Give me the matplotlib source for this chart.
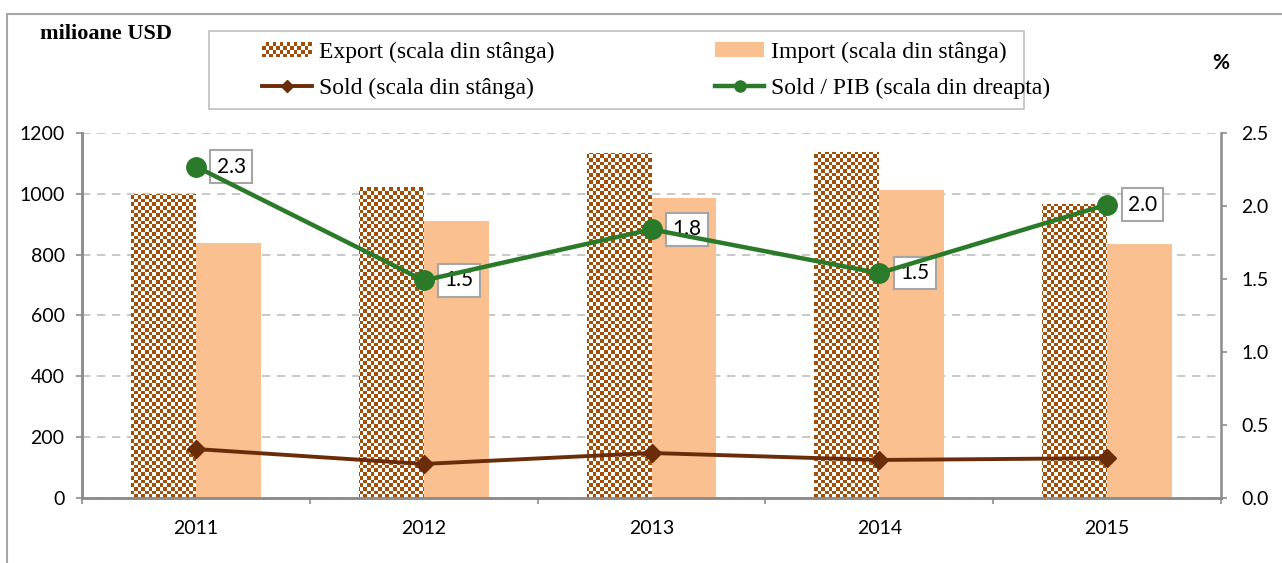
import numpy as np
import matplotlib
matplotlib.use("Agg")
import matplotlib.pyplot as plt
from matplotlib.patches import Rectangle
from matplotlib.legend_handler import HandlerBase
from matplotlib.lines import Line2D

years = ["2011", "2012", "2013", "2014", "2015"]
export_vals = [1000, 1023, 1135, 1138, 967]
import_vals = [839, 911, 987, 1013, 836]
sold_vals = [161, 112, 148, 125, 131]
sold_pib = [2.27, 1.49, 1.84, 1.54, 2.01]

BROWN = "#A04E08"
PEACH = "#FAC090"
SOLD_C = "#6B2C0A"
GREEN = "#2A7A2A"
GRAY = "#8C8C8C"

plt.rcParams["font.family"] = ["Lato", "DejaVu Sans"]

fig = plt.figure(figsize=(12.82, 5.63), dpi=100)
ax = fig.add_axes([82 / 1282, 1 - 498 / 563, (1221 - 82) / 1282, (498 - 133) / 563])
ax2 = ax.twinx()

x = np.arange(len(years))
w = 0.285
exp_bars = ax.bar(x - w / 2, export_vals, w, color="white", edgecolor="none", zorder=2)
imp_bars = ax.bar(x + w / 2, import_vals, w, color=PEACH, edgecolor="none", zorder=2)

# checkerboard fill for export bars
ny, nx = 99, 308
checker = (np.add.outer(np.arange(ny), np.arange(nx)) % 2).astype(float)
cmap = matplotlib.colors.ListedColormap([BROWN, "white"])
for b in exp_bars:
    im = ax.imshow(checker, extent=[0, 1, 0, 1], transform=ax.transAxes,
                   cmap=cmap, interpolation="nearest", aspect="auto", zorder=2.1)
    im.set_clip_path(b)

ax.plot(x, sold_vals, color=SOLD_C, lw=2.8, marker="D", ms=9, zorder=4)
ax2.plot(x, sold_pib, color=GREEN, lw=3.2, marker="o", ms=14, zorder=4)

for i, v in enumerate(sold_pib):
    ax2.annotate(f"{v:.1f}", (x[i], v), xytext=(15, 0), textcoords="offset points",
                 ha="left", va="center", fontsize=15,
                 bbox=dict(boxstyle="square,pad=0.3", fc="white", ec="#A6A6A6", lw=1.5))

ax.set_xlim(-0.5, len(years) - 0.5)
ax.set_ylim(0, 1200)
ax.set_yticks(range(0, 1201, 200))
ax2.set_ylim(0, 2.5)
ax2.set_yticks(np.arange(0, 2.51, 0.5))
ax2.set_yticklabels([f"{t:.1f}" for t in np.arange(0, 2.51, 0.5)])

ax.set_xticks(x)
ax.set_xticklabels(years)
ax.set_xticks(np.arange(-0.5, len(years)), minor=True)
ax.tick_params(axis="x", which="major", length=0, labelsize=14, pad=16)
ax.tick_params(axis="x", which="minor", length=4.5, color=GRAY, width=1.2)
ax.tick_params(axis="y", length=4.5, color=GRAY, width=1.2, labelsize=14, pad=8)
ax2.tick_params(axis="y", length=4.5, color=GRAY, width=1.2, labelsize=14, pad=10)

ax.yaxis.grid(True, linestyle=(0, (5, 4)), color="#BFBFBF", lw=1.2, zorder=0)
ax.set_axisbelow(True)
for a in (ax, ax2):
    a.spines["top"].set_visible(False)
    for s in ("left", "right", "bottom"):
        a.spines[s].set_color(GRAY)
        a.spines[s].set_linewidth(1.8)
ax.spines["right"].set_visible(False)


class CheckerHandler(HandlerBase):
    def create_artists(self, legend, orig_handle, xdescent, ydescent, width, height, fontsize, trans):
        arts = []
        cols, rows = 14, 4
        cw, ch = width / cols, height / rows
        for i in range(cols):
            for j in range(rows):
                if (i + j) % 2 == 0:
                    arts.append(Rectangle((-xdescent + i * cw, -ydescent + j * ch), cw, ch,
                                          facecolor=BROWN, edgecolor="none", transform=trans))
        return arts


h_exp = Rectangle((0, 0), 1, 1)
h_imp = Rectangle((0, 0), 1, 1, facecolor=PEACH, edgecolor="none")
h_sold = Line2D([], [], color=SOLD_C, lw=2.8, marker="D", ms=6)
h_pib = Line2D([], [], color=GREEN, lw=3.2, marker="o", ms=8)

# legend frame drawn on its own
fig.add_artist(Rectangle((209 / 1282, 1 - 109 / 563), (1024 - 209) / 1282, 78 / 563,
                         transform=fig.transFigure, fc="white", ec="#BFBFBF", lw=1.2, zorder=5))
leg = fig.legend([h_exp, h_sold, h_imp, h_pib],
                 ["Export (scala din stânga)", "Sold (scala din stânga)",
                  "Import (scala din stânga)", "Sold / PIB (scala din dreapta)"],
                 handler_map={h_exp: CheckerHandler()},
                 ncol=2, loc="upper left", bbox_to_anchor=(262 / 1282, 1 - 42 / 563),
                 borderaxespad=0, borderpad=0, frameon=False,
                 prop={"family": "Liberation Serif", "size": 17},
                 handlelength=2.1, handleheight=0.6, handletextpad=0.3,
                 columnspacing=6.8, labelspacing=0.62)
leg.set_zorder(6)

fig.text(40 / 1282, 1 - 34 / 563, "milioane USD", fontsize=16, fontweight="bold",
         family="Liberation Serif", va="center")
fig.text(1212 / 1282, 1 - 63 / 563, "%", fontsize=15, fontweight="bold", va="center")

# outer frame
fig.add_artist(Rectangle((7 / 1282, -0.1), 1.2, 1 - 14 / 563 + 0.1, transform=fig.transFigure,
                         fill=False, edgecolor="#A6A6A6", lw=1.5))

fig.savefig("out.png", dpi=100)
